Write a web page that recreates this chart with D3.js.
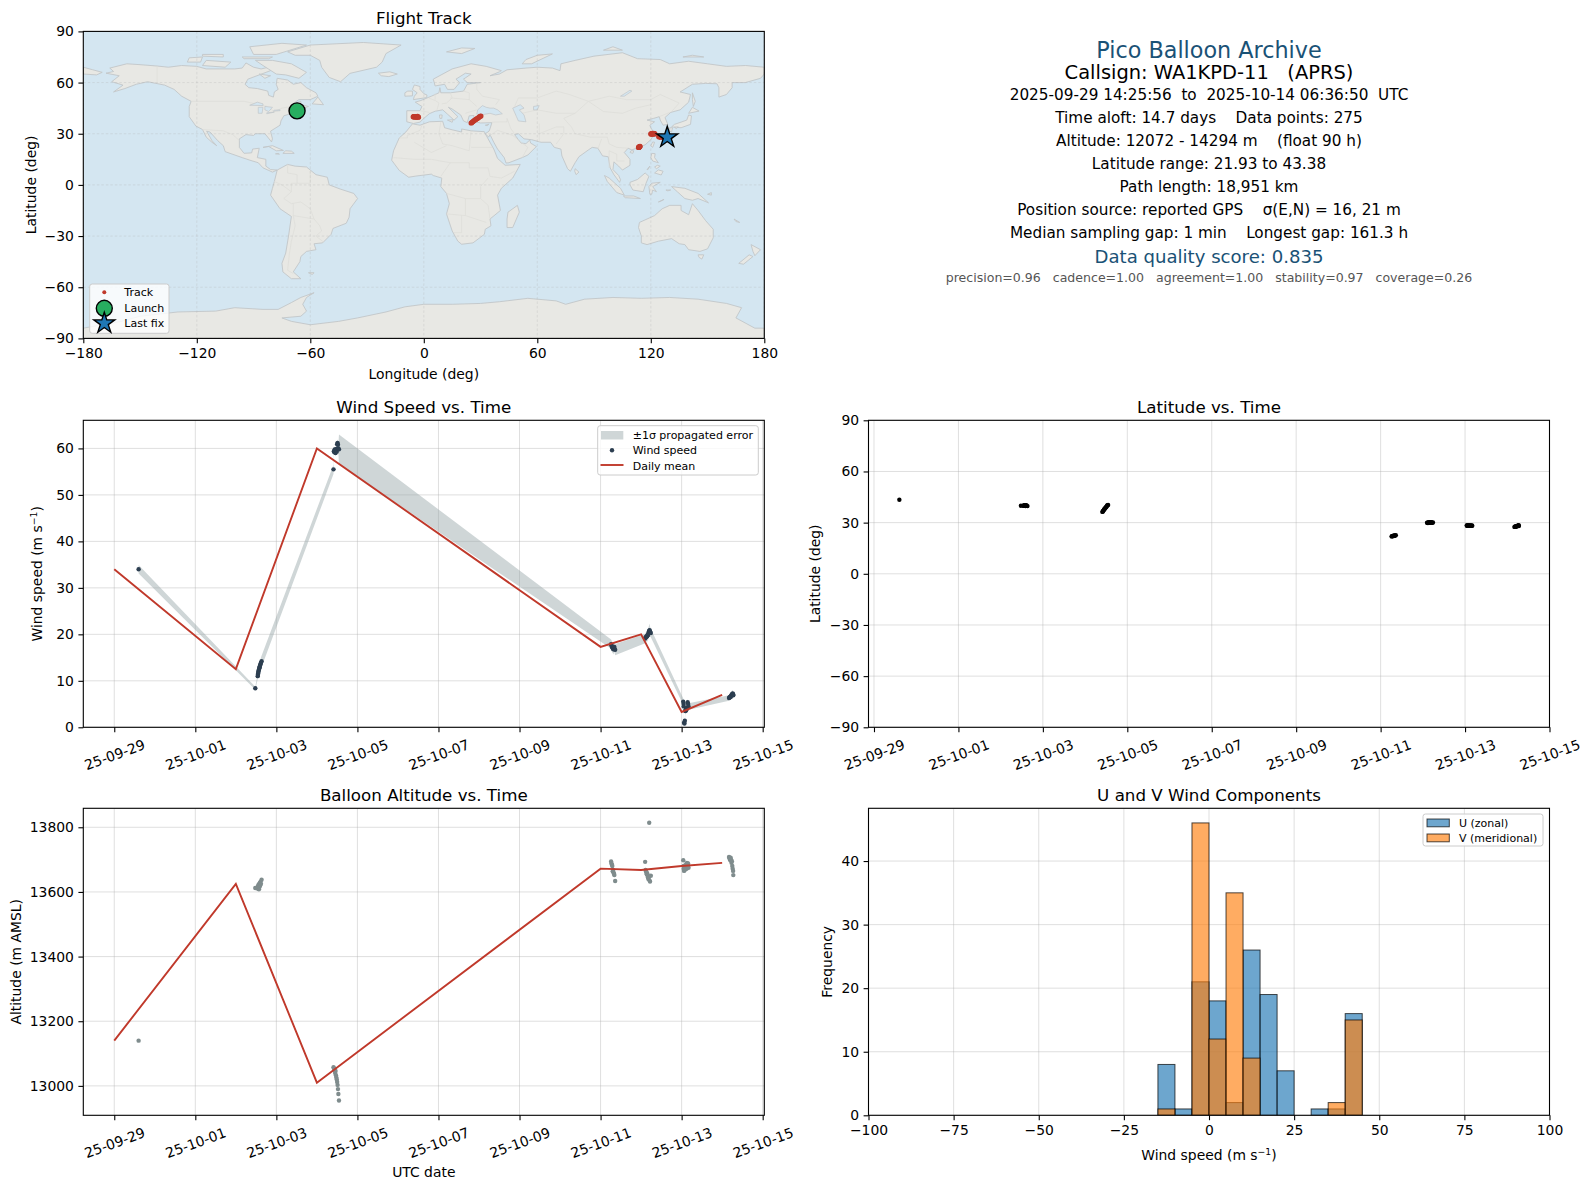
<!DOCTYPE html>
<html>
<head>
<meta charset="utf-8">
<script src="https://cdn.jsdelivr.net/npm/d3@7"></script>
<style>
  html, body { margin: 0; padding: 0; background: #fff; }
  text { font-family: "DejaVu Sans", sans-serif; fill: #000; }
</style>
</head>
<body>
<svg id="chart" width="1589" height="1189"></svg>
<script>
// fixes, all in time order. day = days since 2025-09-29 00:00 UTC
var fixDay = [0.601,
  3.48, 3.54, 3.545, 3.55, 3.555, 3.56, 3.57, 3.58, 3.585, 3.59, 3.60, 3.61, 3.62, 3.635,
  5.41, 5.42, 5.43, 5.44, 5.45, 5.46, 5.47, 5.48, 5.49, 5.50, 5.51, 5.52, 5.53, 5.545,
  12.26, 12.27, 12.28, 12.29, 12.30, 12.31, 12.32, 12.33, 12.34, 12.36,
  13.10, 13.11, 13.12, 13.13, 13.14, 13.15, 13.16, 13.17, 13.18, 13.19, 13.20, 13.21, 13.22, 13.24,
  14.04, 14.05, 14.05, 14.06, 14.07, 14.08, 14.09, 14.10, 14.11, 14.12, 14.13, 14.15, 14.16, 14.17,
  15.17, 15.18, 15.19, 15.20, 15.21, 15.22, 15.23, 15.24, 15.25, 15.26, 15.27, 15.275];
var fixWind = [34,
  8.4, 11.0, 11.3, 11.6, 11.9, 12.1, 12.4, 12.7, 12.9, 13.1, 13.4, 13.6, 13.9, 14.2,
  55.5, 59.4, 59.2, 59.8, 59.3, 59.0, 59.6, 59.9, 59.3, 60.9, 61.2, 60.8, 60.0, 59.8,
  17.9, 17.6, 17.4, 17.2, 17.0, 16.9, 16.8, 17.1, 17.3, 16.7,
  19.1, 19.3, 19.4, 19.5, 19.6, 19.6, 19.8, 19.9, 20.2, 20.5, 20.8, 20.9, 20.6, 20.3,
  5.5, 5.0, 4.5, 1.0, 0.8, 1.4, 3.5, 3.8, 3.6, 3.9, 4.2, 5.4, 5.0, 4.5,
  6.3, 6.4, 6.5, 6.6, 6.5, 6.8, 6.9, 7.0, 7.2, 7.3, 7.1, 6.9];
var fixSigma = [0.9,
  0.3, 0.6, 0.6, 0.7, 0.7, 0.7, 0.8, 0.8, 0.9, 0.9, 1.0, 1.0, 1.1, 1.2,
  1.0, 0.8, 0.6, 0.6, 0.7, 0.6, 0.6, 0.6, 0.6, 0.7, 0.7, 0.8, 1.0, 3.2,
  1.0, 1.0, 1.2, 1.1, 1.0, 1.2, 1.1, 1.0, 1.1, 1.2,
  1.0, 1.0, 1.1, 1.1, 1.1, 1.2, 1.2, 1.1, 1.2, 1.2, 1.4, 1.2, 1.1, 0.9,
  0.7, 0.7, 0.7, 0.6, 0.6, 0.6, 0.7, 0.7, 0.7, 0.7, 0.7, 0.7, 0.7, 0.7,
  0.6, 0.6, 0.6, 0.6, 0.6, 0.6, 0.6, 0.7, 0.7, 0.7, 0.7, 0.7];
var fixAlt = [13140,
  13612, 13616, 13610, 13618, 13612, 13622, 13608, 13625, 13616, 13628, 13620, 13632, 13625, 13638,
  13058, 13055, 13048, 13052, 13040, 13046, 13033, 13026, 13020, 13012, 13003, 12990, 12975, 12955,
  13694, 13688, 13684, 13680, 13664, 13668, 13660, 13656, 13652, 13634,
  13693, 13668, 13665, 13660, 13655, 13658, 13650, 13645, 13640, 13645, 13814, 13635, 13632, 13650,
  13698, 13680, 13672, 13665, 13668, 13675, 13682, 13670, 13685, 13672, 13690, 13680, 13688, 13675,
  13708, 13705, 13702, 13698, 13706, 13700, 13690, 13695, 13680, 13672, 13665, 13652];
var fixLat = [43.38,
  39.9, 40.0, 39.9, 40.1, 40.0, 39.8, 40.0, 40.1, 39.9, 39.7, 39.9, 40.2, 39.8, 39.7,
  36.3, 36.6, 37.0, 37.3, 37.7, 38.0, 38.3, 38.6, 38.9, 39.2, 39.5, 39.9, 40.2, 40.4,
  21.93, 22.0, 22.1, 22.2, 22.3, 22.2, 22.3, 22.4, 22.5, 22.6,
  29.9, 30.0, 29.8, 30.1, 30.0, 30.2, 30.0, 29.9, 30.1, 30.0, 30.2, 30.0, 29.9, 30.1,
  28.3, 28.2, 28.4, 28.2, 28.3, 28.1, 28.3, 28.2, 28.4, 28.2, 28.3, 28.1, 28.3, 28.2,
  27.5, 27.6, 27.7, 27.6, 27.7, 27.8, 28.0, 28.1, 28.2, 28.4, 28.5, 28.0];
var fixLon = [-67,
  -5.6, -5.4, -5.2, -5.0, -4.8, -4.6, -4.4, -4.2, -4.0, -3.8, -3.5, -3.3, -3.0, -2.8,
  25.0, 25.4, 25.8, 26.2, 26.6, 27.0, 27.4, 27.8, 28.2, 28.6, 29.0, 29.4, 29.8, 30.2,
  113.5, 113.6, 113.7, 113.8, 113.9, 114.0, 114.0, 114.1, 114.2, 114.3,
  120.0, 120.2, 120.3, 120.5, 120.6, 120.8, 121.0, 121.1, 121.3, 121.4, 121.5, 121.7, 121.9, 122.1,
  124.2, 124.4, 124.6, 124.8, 125.0, 125.2, 125.4, 125.6, 125.8, 126.0, 126.2, 126.4, 126.6, 126.8,
  127.2, 127.3, 127.4, 127.5, 127.6, 127.7, 127.8, 128.0, 128.1, 128.2, 128.4, 128.7];

// daily means
var meanDay = [0, 3, 5, 12, 13, 14, 15];
var meanWind = [34, 12.5, 60, 17.3, 20, 3.3, 7];
var meanAlt = [13140, 13625, 13010, 13672, 13668, 13680, 13690];

// histogram, 5 m/s bins
var histEdges = [-15, -10, -5, 0, 5, 10, 15, 20, 25, 30, 35, 40];
var histU = [8, 1, 21, 18, 2, 26, 19, 7, 0, 1, 1, 16];
var histV = [1, 0, 46, 12, 35, 9, 0, 0, 0, 0, 2, 15];

// axis ticks
var dateTicks = ['2025-09-29', '2025-10-01', '2025-10-03', '2025-10-05', '2025-10-07', '2025-10-09', '2025-10-11', '2025-10-13', '2025-10-15'];
var lonTicks = [-180, -120, -60, 0, 60, 120, 180];
var latTicks = [-90, -60, -30, 0, 30, 60, 90];
var windTicks = [0, 10, 20, 30, 40, 50, 60];
var altTicks = [13000, 13200, 13400, 13600, 13800];
var histXTicks = [-100, -75, -50, -25, 0, 25, 50, 75, 100];
var histYTicks = [0, 10, 20, 30, 40];

// launch and last fix
var launchPoint = [-67, 43.38];
var lastFixPoint = [128.7, 27.9];

// info block
var infoHead = 'Pico Balloon Archive';
var infoCall = 'Callsign: WA1KPD-11   (APRS)';
var infoLines = [
  '2025-09-29 14:25:56  to  2025-10-14 06:36:50  UTC',
  'Time aloft: 14.7 days    Data points: 275',
  'Altitude: 12072 - 14294 m    (float 90 h)',
  'Latitude range: 21.93 to 43.38',
  'Path length: 18,951 km',
  'Position source: reported GPS    σ(E,N) = 16, 21 m',
  'Median sampling gap: 1 min    Longest gap: 161.3 h'
];
var infoScore = 'Data quality score: 0.835';
var infoParts = 'precision=0.96   cadence=1.00   agreement=1.00   stability=0.97   coverage=0.26';

// rough coastlines, lon/lat
var landPolys = [
  // north america
  [[-168,65.5],[-164,66.5],[-166,68.5],[-157,71],[-150,70.5],[-141,69.7],[-135,69],[-128,70],[-120,69.5],[-115,68],[-108,68],[-100,68],[-96,68.5],[-94,71.5],[-90,69],[-86,68],[-82,69],[-81,67],[-87,64.5],[-93,62],[-94.5,59],[-92.5,57],[-88,56.5],[-82.5,55],[-82,52.5],[-79.5,51.5],[-79,54.5],[-77,56],[-78,59],[-77.5,62.5],[-72,61.5],[-69,59],[-65,60],[-62,57],[-57,54],[-56,52],[-60,50],[-66,50],[-70,47],[-65,49],[-65,47],[-61,46],[-66,44],[-70,43.5],[-70.5,41.7],[-74,40.5],[-75.5,37.5],[-76,35],[-81,31.5],[-80,27],[-80.5,25.2],[-82.5,28],[-84,30],[-89,30],[-90,29],[-94,29.5],[-97.5,27],[-97.5,22],[-95,18.5],[-91,18.8],[-90.5,21],[-87,21.5],[-88,16],[-83.5,15],[-83.5,11],[-81,9],[-77.5,8.7],[-80,7.5],[-85,10],[-87.5,13],[-92,14.5],[-96,16],[-105,19.5],[-106,23],[-109,26],[-113,31],[-114.8,31.5],[-112,26],[-109.5,23],[-112,25],[-115,28],[-117,32.5],[-120.5,34.5],[-124,40],[-124,46],[-123,49],[-128,52],[-132,56],[-137,58.5],[-146,60.5],[-152,59],[-158,56.5],[-164,54.5],[-159,58.5],[-165,60.5],[-161,64]],
  // south america
  [[-77.5,8.7],[-72,12],[-68,11],[-62,10.5],[-57,6],[-51,4.5],[-50,0],[-44,-2.5],[-37,-5],[-35,-8],[-39,-14],[-39.5,-19],[-41,-22.5],[-48,-25.5],[-49,-29],[-53.5,-34],[-58,-34.5],[-57,-38],[-62,-39],[-65,-42],[-65.5,-45],[-69,-51],[-65,-55],[-70,-55],[-74.5,-51],[-75,-46],[-73,-40],[-71.5,-30],[-70,-18.5],[-76,-14],[-81,-6],[-80,-2],[-79,2]],
  // africa
  [[-6,35.8],[-2,35],[3,37],[10,37.3],[11,33.5],[15,32.3],[20,31],[20,32.8],[25,31.7],[32,31.2],[32.5,30],[34,27],[37,21],[39,15.5],[43,11.5],[51,12],[47,4],[41,-2],[39,-6],[40.5,-15],[35,-20],[35.5,-24],[32.5,-26],[32,-29],[26,-34],[20,-34.8],[18,-33],[15,-27],[12,-17],[13.5,-11],[12,-5],[9,-1],[9.5,4],[5,5.5],[4,6.3],[-4,5.2],[-8,4.5],[-13,8.5],[-17,14.5],[-16,20],[-13,27.5],[-9.5,31]],
  // eurasia
  [[-9,37],[-5.5,36],[-2,36.8],[0,39],[3,41.8],[6,43.2],[10,44],[12.5,41.5],[16,38],[18,40],[13,45.5],[15,44.5],[19.5,41],[21,37.5],[23,36.5],[24,40.5],[26.5,40.7],[26.5,38.5],[27.5,37],[30,36.3],[36,36.5],[35,33],[34.5,31.5],[32.5,30],[34.3,28],[35,29.5],[37,25],[39,21],[42.5,16],[43.5,12.8],[45,13],[52,16],[55,17.5],[59.5,22.5],[56.5,24.5],[56,26.3],[54,24.2],[51.5,24.5],[50,26.5],[48,29.5],[50,30],[53,27],[57,26.5],[62,25],[67,25],[69,22],[72.5,21],[73,17],[76,9.5],[77.5,8],[80,13],[82,16.5],[87,20.5],[89,22],[92,21.5],[94.5,17],[97.5,16.5],[98.5,10],[100.5,6],[103.5,1.5],[104,3],[103,5.5],[100,9],[100.5,13.5],[103,11],[105,8.7],[109,11.5],[109,15],[106,19],[108,21.5],[110,20.5],[113.5,22],[117,23.5],[120,26.5],[122,30],[120,33.5],[119.5,35],[122,37],[118,38],[121.5,39],[124.5,40],[125,38],[126.5,35],[129,35.5],[127.5,39.5],[130.5,42.5],[135.5,44],[140,48.5],[141,53],[135.5,54.5],[142,59],[149,59.5],[155,59.3],[156,57],[156,51.5],[160,53],[163,57],[163,60],[170,60],[178,62.5],[180,65],[180,69],[170,70],[160,69.5],[150,71],[140,72.5],[130,71],[125,73.5],[113,74],[105,77.5],[90,75.5],[80,73],[72.5,71],[72,67],[68,68.5],[60,69],[54,68.5],[44,67.5],[40,65],[35,64],[40,66.3],[41,67],[33,69.5],[25,71],[15,68],[5,62],[6,58],[11,59],[12.5,56],[16,56],[19,60],[17,62],[22,65.5],[25,65],[21,62],[23,60],[30,60],[23,59],[21,55],[14,54],[9,54],[8.5,57],[8,54],[4,52],[-1.5,49.5],[-4.5,48.5],[-1,46],[-2,43.5],[-9,43.5]],
  // chukotka over the dateline
  [[-180,65],[-173,64.5],[-170,66],[-175,67.5],[-180,69]],
  // greenland and arctic islands
  [[-72,78],[-60,82],[-32,83.5],[-12,82],[-20,77],[-22,72],[-25,69],[-39,65.4],[-44,60.5],[-50,63],[-54,69],[-55,73],[-60,76],[-68,76]],
  [[-80,73],[-70,71],[-62,66],[-66,62.5],[-73,64.5],[-78,65],[-85,70],[-89,73]],
  [[-117,70],[-105,69],[-102,72],[-115,73]],
  [[-90,76.5],[-78,76.5],[-62,82],[-75,83],[-92,81]],
  [[-125,72],[-118,72],[-117,75],[-124,74.5]],
  [[-96,75],[-80,75],[-82,74],[-95,74]],
  [[-117,75.5],[-106,75],[-106,76.5],[-117,76.5]],
  [[-87,65],[-81,64],[-84,62.5]],
  [[-59,47.5],[-53,47],[-56,51.5]],
  // caribbean
  [[-85,22],[-80,23],[-74.2,20.2],[-78,20],[-82,22.5]],
  [[-74.5,18.5],[-68.5,18.5],[-70,19.8],[-73,20]],
  [[-78.4,18.2],[-76.3,18],[-77,18.5]],
  // europe islands
  [[-5.5,50],[1.5,51.2],[1.7,52.7],[0,53.5],[-2,56],[-2,57.7],[-5,58.6],[-6,56],[-3.5,54],[-5,52]],
  [[-10,52],[-6,52.2],[-6,55],[-8.5,55],[-10,54]],
  [[-24,65.5],[-18,66.3],[-14,65],[-18.5,63.5],[-22.5,64]],
  [[12.5,38],[15.5,38.2],[15,36.7]],
  [[8.3,41],[9.7,41],[9.5,39],[8.5,39]],
  [[24,35.5],[26.2,35.2],[25,34.9]],
  [[32.5,35],[34.5,35.6],[33.5,34.7]],
  [[12,78],[20,80.3],[27,80],[20,77]],
  [[52,71],[57,71],[68,76.8],[60,76],[54,73.5]],
  [[95,79],[105,79],[100,81]],
  [[137,75],[148,75],[142,76]],
  // east asia
  [[142,54],[143.5,49],[142.5,46],[142,50]],
  [[131,34],[136,33.5],[141,35.5],[141.5,40.5],[140,41],[139,38],[136.5,37],[132.5,35.5]],
  [[140,42],[145.5,43.3],[142,45.5]],
  [[130,33.5],[131.5,33.5],[131,31],[130,31.5]],
  [[132.5,33.8],[134.5,34],[133.5,33]],
  [[120,23],[121,22],[122,25],[121,25.2]],
  [[109,19],[110.5,18.5],[111,20],[109.5,20]],
  [[120,16],[120.5,18.5],[122.3,18.3],[122,16],[124,13],[121,14]],
  [[122,7],[125.5,5.8],[126.5,8],[124,8.8]],
  [[122,10.5],[123.5,11.5],[125,11],[123,9.5]],
  [[118,9],[119.5,11],[118.5,9]],
  // indonesia, new guinea
  [[109,1.5],[113,3.2],[117,7],[119,5],[117.5,1],[116,-4],[110.5,-3],[109,0]],
  [[95.5,5.5],[98,4],[104,-2],[106,-6],[102,-4.5],[97,2]],
  [[105.5,-6.5],[111,-6.5],[114.5,-8],[106.5,-7.5]],
  [[119.5,-5.5],[119,-1],[120.5,1],[125,1.5],[121,-1],[123,-4],[121,-3],[120.5,-5.5]],
  [[131,-1],[138,-2],[145,-5],[150.5,-10.5],[145,-8],[142,-9],[138,-8],[134,-4]],
  [[124,-10],[127,-8.5],[125,-9.7]],
  [[128,-3],[130.5,-3],[129,-3.5]],
  [[150,-5.5],[152,-4.5],[152,-6]],
  // indian ocean
  [[80,9.5],[82,7.5],[80.5,6],[79.8,8]],
  [[49.5,-12],[50.5,-16],[47,-25],[44,-25],[44,-20],[44.5,-16]],
  // australia, new zealand
  [[114,-22],[122,-18],[126,-14],[130,-12],[136,-12],[136,-15],[140,-17.5],[142,-11],[145,-15],[149,-21],[153,-26],[153,-31],[150,-37.5],[146,-39],[140,-38],[138,-35],[135,-34.5],[131,-31.5],[124,-33],[118,-35],[115,-34],[115,-30],[113.5,-25]],
  [[145,-41],[148,-41],[147,-43.5],[145.5,-42.5]],
  [[173,-35],[178,-38],[175,-41.5],[174,-39]],
  [[172,-41],[174,-42],[169,-46.5],[166.5,-46]],
  [[164,-20],[167,-22],[165,-21.5]],
  // falklands
  [[-61,-51.5],[-58,-51.5],[-59,-52.5]],
  // antarctica
  [[-180,-90],[-180,-84],[-160,-80],[-150,-77],[-130,-74.5],[-110,-74],[-100,-72],[-85,-73],[-77,-73],[-70,-69],[-65,-66],[-58,-63.2],[-62,-66],[-64,-70],[-62,-74],[-65,-77],[-75,-78],[-70,-80],[-60,-82],[-45,-80],[-35,-78],[-20,-74.5],[-10,-71.5],[0,-70],[15,-70],[30,-69.5],[40,-68.5],[55,-66.5],[70,-68],[75,-70],[85,-67],[100,-66],[115,-66.5],[130,-66],[145,-67],[160,-69.5],[168,-72],[165,-78],[175,-84],[180,-84],[180,-90]]
];
var lakePolys = [
  [[28,41.5],[31,41.2],[35,42],[38,41],[41.5,41.7],[39,44],[37,45],[35,45],[33,45.5],[31,46.5],[28.5,44]],
  [[47,45],[51,47],[53,45],[50.5,44],[53,41],[54,37],[50,37.5],[49,40]],
  [[58,46],[61,46.5],[60,44],[58,44]],
  [[-92,46.7],[-88,48.5],[-85,47.5],[-85,46.5]],
  [[-87.5,42],[-85.5,42],[-85,45.5],[-87.5,45.5]],
  [[-84,46],[-80,45.5],[-82,43],[-84,44]],
  [[-83,41.7],[-79,42.7],[-83,42.3]],
  [[-79.5,43.3],[-76,43.5],[-76,44],[-79,43.8]],
  [[104,52],[109,55.5],[110,55],[106,52]]
];
var borderLines = [
  [[-123,49],[-95,49],[-83,46],[-79,43],[-75,45],[-70,46],[-67,47],[-67,45]],
  [[-141,69.7],[-141,60]],
  [[-117,32.5],[-106,31.7],[-101,29.5],[-97.5,26]],
  [[-60,8],[-60,1],[-70,1],[-70,-4],[-74,-8],[-70,-11],[-65,-10],[-60,-14],[-58,-20],[-55,-24],[-54,-27],[-57,-30],[-53,-33.5]],
  [[-69,-18],[-68,-24],[-70,-33],[-71,-40],[-72,-50],[-69,-52]],
  [[-72,12],[-72,7],[-67,6],[-67,1]],
  [[-79,2],[-75,0],[-70,-4]],
  [[-69,-11],[-69,-18],[-58,-20]],
  [[-13,27.5],[-8.7,27.5],[-8.7,29],[-2,32],[-1,35]],
  [[9,37],[8,30],[10,24],[15,23],[24,20],[25,31.7]],
  [[25,22],[36,22]],
  [[-5,25],[4,19],[12,23]],
  [[-16,16],[-5,15],[4,15],[14,13],[24,13],[24,10],[34,10],[35,5],[41,4],[48,8]],
  [[14,13],[9,5]],
  [[12,-5],[22,-8],[30,-8],[30,-1],[34,4]],
  [[22,-8],[22,-18],[12,-17]],
  [[20,-18],[20,-28],[16,-28]],
  [[30,-8],[34,-12],[35,-20]],
  [[22,-18],[33,-22]],
  [[-2,43.5],[3,42.5]],
  [[2.5,51],[6,49.5],[8,48],[7,44]],
  [[6,53.5],[6,50]],
  [[14,54],[15,51],[12,48],[9.5,47.5]],
  [[14,51],[24,50],[24,54],[21,55]],
  [[28,46],[24,50]],
  [[22,42],[28,44]],
  [[28,60],[28,56],[31,52],[40,50],[38,47]],
  [[48,46],[50,51],[60,51],[70,55],[77,53],[87,49]],
  [[87,49],[98,52],[107,50],[120,50],[125,53],[135,48],[131,43]],
  [[87,49],[80,42],[74,39],[78,34],[80,30],[88,28],[97,28],[98,24],[102,22],[108,21.5]],
  [[87,49],[95,43],[105,42],[112,45],[120,47]],
  [[44,39],[46,33],[48,30]],
  [[61,36],[61,25]],
  [[36,36.8],[44,37],[44,39]],
  [[35,29],[39,32],[47,29],[55,22],[52,16]],
  [[61,30],[70,34],[74,34],[74,30],[70,24]],
  [[52,42],[60,44],[70,42],[80,42]],
  [[92,21],[94,27]],
  [[98,10],[98,20],[102,18],[102,14],[106,14]],
  [[124.5,40],[130,42.5]]
];

var redLine = '#c0392b';
var gridStroke = '#b0b0b0';

var svg = d3.select('#chart');
var leftCol = {left: 83.3, right: 764.3};
var rightCol = {left: 868.5, right: 1549.5};
var rows = [{top: 31.4, bottom: 338.4}, {top: 420.3, bottom: 727.3}, {top: 808.3, bottom: 1115.3}];

var t0 = Date.UTC(2025, 8, 29);
function dayToDate(d) { return new Date(t0 + d * 864e5); }
var parseDay = d3.utcParse('%Y-%m-%d');
var tickDates = dateTicks.map(function(s) { return parseDay(s); });
var fmtDate = d3.utcFormat('%y-%m-%d');

// draw the grid, ticks and labels of one panel, return the plot group
function panel(col, row, xScale, yScale, opts) {
  var g = svg.append('g');
  var clipId = 'clip' + Math.round(col.left) + Math.round(row.top);
  svg.append('clipPath').attr('id', clipId).append('rect')
    .attr('x', col.left).attr('y', row.top)
    .attr('width', col.right - col.left).attr('height', row.bottom - row.top);
  var plot = g.append('g').attr('clip-path', 'url(#' + clipId + ')');
  var back = plot.append('g');
  var grid = plot.append('g')
    .attr('stroke', gridStroke).attr('stroke-opacity', opts.gridOpacity || 0.4).attr('stroke-width', opts.gridWidth || 1)
    .attr('stroke-dasharray', opts.gridDash || null);
  opts.xTicks.forEach(function(t) {
    grid.append('line').attr('x1', xScale(t)).attr('x2', xScale(t)).attr('y1', row.top).attr('y2', row.bottom);
  });
  opts.yTicks.forEach(function(t) {
    grid.append('line').attr('y1', yScale(t)).attr('y2', yScale(t)).attr('x1', col.left).attr('x2', col.right);
  });
  var front = plot.append('g');

  var xAxis = d3.axisBottom(xScale).tickValues(opts.xTicks).tickSize(4.9).tickPadding(5);
  if (opts.xFormat) xAxis.tickFormat(opts.xFormat);
  var ax = g.append('g').attr('transform', 'translate(0,' + row.bottom + ')').call(xAxis);
  var ay = g.append('g').attr('transform', 'translate(' + col.left + ',0)')
    .call(d3.axisLeft(yScale).tickValues(opts.yTicks).tickSize(4.9).tickPadding(4.5).tickFormat(d3.format('d')));
  ax.select('.domain').remove();
  ay.select('.domain').remove();
  ax.selectAll('text').style('font-size', '13.9px').style('font-family', '"DejaVu Sans"');
  ay.selectAll('text').style('font-size', '13.9px').style('font-family', '"DejaVu Sans"');
  ax.selectAll('line').attr('stroke-width', 1.1);
  ay.selectAll('line').attr('stroke-width', 1.1);
  if (opts.rotate) {
    ax.selectAll('text')
      .attr('y', 0).attr('dy', '0.35em')
      .attr('transform', 'translate(0,27.5) rotate(-20)')
      .attr('text-anchor', 'middle');
  }

  g.append('rect').attr('x', col.left).attr('y', row.top)
    .attr('width', col.right - col.left).attr('height', row.bottom - row.top)
    .attr('fill', 'none').attr('stroke', '#000').attr('stroke-width', 1.1);

  g.append('text').attr('x', (col.left + col.right) / 2).attr('y', row.top - 7.5)
    .attr('text-anchor', 'middle').style('font-size', '16.7px').text(opts.title);

  if (opts.yLabel) {
    var yl = g.append('text').attr('transform', 'translate(' + opts.yLabelX + ',' + (row.top + row.bottom) / 2 + ') rotate(-90)')
      .attr('text-anchor', 'middle').style('font-size', '13.9px');
    addUnitLabel(yl, opts.yLabel);
  }
  if (opts.xLabel) {
    var xl = g.append('text').attr('x', (col.left + col.right) / 2).attr('y', opts.xLabelY)
      .attr('text-anchor', 'middle').style('font-size', '13.9px');
    addUnitLabel(xl, opts.xLabel);
  }
  return {back: back, front: front, g: g};
}

// labels ending in m s^-1 get a raised exponent
function addUnitLabel(sel, label) {
  var p = label.split('^');
  sel.append('tspan').text(p[0]);
  if (p.length > 1) {
    sel.append('tspan').attr('dy', -5).style('font-size', '9.3px').text('\u22121');
    sel.append('tspan').attr('dy', 5).text(')');
  }
}

function legendBox(g, x0, y0, x1, y1) {
  g.append('rect').attr('x', x0).attr('y', y0).attr('width', x1 - x0).attr('height', y1 - y0)
    .attr('rx', 2.5).attr('fill', '#fff').attr('fill-opacity', 0.8).attr('stroke', '#ccc').attr('stroke-width', 1);
}
function legendText(g, x, y, s) {
  g.append('text').attr('x', x).attr('y', y).attr('dy', '0.36em').style('font-size', '11px').text(s);
}

// flight track map
(function() {
  var x = d3.scaleLinear().domain([-180, 180]).range([leftCol.left, leftCol.right]);
  var y = d3.scaleLinear().domain([-90, 90]).range([rows[0].bottom, rows[0].top]);
  var p = panel(leftCol, rows[0], x, y, {
    xTicks: lonTicks, yTicks: latTicks, title: 'Flight Track',
    xLabel: 'Longitude (deg)', xLabelY: 379, yLabel: 'Latitude (deg)', yLabelX: 36,
    gridDash: '2.5,2', gridOpacity: 0.4, gridWidth: 0.7
  });
  var line = d3.line().x(function(d) { return x(d[0]); }).y(function(d) { return y(d[1]); });
  p.back.append('rect').attr('x', leftCol.left).attr('y', rows[0].top)
    .attr('width', leftCol.right - leftCol.left).attr('height', rows[0].bottom - rows[0].top).attr('fill', '#d4e6f1');
  p.back.selectAll('path.land').data(landPolys).enter().append('path').attr('class', 'land')
    .attr('d', function(d) { return line(d) + 'Z'; })
    .attr('fill', '#e8e8e4').attr('stroke', '#c2c6c8').attr('stroke-width', 0.9).attr('stroke-linejoin', 'round');
  p.back.selectAll('path.border').data(borderLines).enter().append('path').attr('class', 'border')
    .attr('d', line).attr('fill', 'none').attr('stroke', '#dcdcd9').attr('stroke-width', 0.7);
  p.back.selectAll('path.lake').data(lakePolys).enter().append('path').attr('class', 'lake')
    .attr('d', function(d) { return line(d) + 'Z'; })
    .attr('fill', '#d4e6f1').attr('stroke', '#c2c6c8').attr('stroke-width', 0.7);

  p.front.selectAll('circle.fix').data(fixLon).enter().append('circle').attr('class', 'fix')
    .attr('cx', function(d) { return x(d); })
    .attr('cy', function(d, i) { return y(fixLat[i]); })
    .attr('r', 2.6).attr('fill', redLine);
  p.front.append('circle').attr('cx', x(launchPoint[0])).attr('cy', y(launchPoint[1]))
    .attr('r', 8).attr('fill', '#27ae60').attr('stroke', '#000').attr('stroke-width', 1.4);
  p.front.append('path').attr('d', d3.symbol(d3.symbolStar, 136)())
    .attr('transform', 'translate(' + x(lastFixPoint[0]) + ',' + y(lastFixPoint[1]) + ')')
    .attr('fill', '#1f77b4').attr('stroke', '#000').attr('stroke-width', 1.4);

  var lg = p.g.append('g');
  legendBox(lg, 89.7, 284, 169, 333.3);
  lg.append('circle').attr('cx', 104.3).attr('cy', 292.3).attr('r', 2).attr('fill', redLine);
  lg.append('circle').attr('cx', 104.3).attr('cy', 308.3).attr('r', 8).attr('fill', '#27ae60').attr('stroke', '#000').attr('stroke-width', 1.4);
  lg.append('path').attr('d', d3.symbol(d3.symbolStar, 136)()).attr('transform', 'translate(104.3,323.3)')
    .attr('fill', '#1f77b4').attr('stroke', '#000').attr('stroke-width', 1.4);
  legendText(lg, 124.3, 292.3, 'Track');
  legendText(lg, 124.3, 308.3, 'Launch');
  legendText(lg, 124.3, 323.3, 'Last fix');
})();

// info text
(function() {
  var cx = 1209;
  var g = svg.append('g').attr('text-anchor', 'middle');
  g.append('text').attr('x', cx).attr('y', 58).style('font-size', '22.3px').style('fill', '#1a5276').text(infoHead);
  g.append('text').attr('x', cx).attr('y', 79).style('font-size', '19.45px').style('white-space', 'pre').text(infoCall);
  infoLines.forEach(function(s, i) {
    g.append('text').attr('x', cx).attr('y', 99.7 + i * 23.1).style('font-size', '15.25px').style('white-space', 'pre').text(s);
  });
  g.append('text').attr('x', cx).attr('y', 263).style('font-size', '18.1px').style('fill', '#1a5276').text(infoScore);
  g.append('text').attr('x', cx).attr('y', 282).style('font-size', '12.55px').style('fill', '#555').style('white-space', 'pre').text(infoParts);
})();

// wind speed against time
(function() {
  var x = d3.scaleUtc().domain([dayToDate(-0.764), dayToDate(16.04)]).range([leftCol.left, leftCol.right]);
  var y = d3.scaleLinear().domain([0, 66.05]).range([rows[1].bottom, rows[1].top]);
  var p = panel(leftCol, rows[1], x, y, {
    xTicks: tickDates, yTicks: windTicks, title: 'Wind Speed vs. Time', xFormat: fmtDate, rotate: true,
    yLabel: 'Wind speed (m s^', yLabelX: 42
  });
  var band = d3.area()
    .x(function(d) { return x(dayToDate(fixDay[d])); })
    .y0(function(d) { return y(fixWind[d] - fixSigma[d]); })
    .y1(function(d) { return y(fixWind[d] + fixSigma[d]); });
  p.front.append('path').attr('d', band(d3.range(fixDay.length))).attr('fill', '#95a5a6').attr('fill-opacity', 0.45);
  p.front.selectAll('circle').data(fixDay).enter().append('circle')
    .attr('cx', function(d) { return x(dayToDate(d)); })
    .attr('cy', function(d, i) { return y(fixWind[i]); })
    .attr('r', 2.2).attr('fill', '#2c3e50');
  var mean = d3.line().x(function(d, i) { return x(dayToDate(d)); }).y(function(d, i) { return y(meanWind[i]); });
  p.front.append('path').attr('d', mean(meanDay)).attr('fill', 'none').attr('stroke', redLine).attr('stroke-width', 1.9);

  var lg = p.g.append('g');
  legendBox(lg, 597.7, 425.7, 758.3, 475);
  lg.append('rect').attr('x', 601).attr('y', 431).attr('width', 22.3).attr('height', 8.5).attr('fill', '#95a5a6').attr('fill-opacity', 0.45);
  lg.append('circle').attr('cx', 612).attr('cy', 450.3).attr('r', 2.2).attr('fill', '#2c3e50');
  lg.append('line').attr('x1', 600.5).attr('x2', 623.5).attr('y1', 465).attr('y2', 465).attr('stroke', redLine).attr('stroke-width', 1.9);
  legendText(lg, 632.7, 435.3, '\u00b11\u03c3 propagated error');
  legendText(lg, 632.7, 450.3, 'Wind speed');
  legendText(lg, 632.7, 465.8, 'Daily mean');
})();

// latitude against time
(function() {
  var x = d3.scaleUtc().domain([dayToDate(-0.13), dayToDate(16.0)]).range([rightCol.left, rightCol.right]);
  var y = d3.scaleLinear().domain([-90, 90]).range([rows[1].bottom, rows[1].top]);
  var p = panel(rightCol, rows[1], x, y, {
    xTicks: tickDates, yTicks: latTicks, title: 'Latitude vs. Time', xFormat: fmtDate, rotate: true,
    yLabel: 'Latitude (deg)', yLabelX: 820
  });
  p.front.selectAll('circle').data(fixDay).enter().append('circle')
    .attr('cx', function(d) { return x(dayToDate(d)); })
    .attr('cy', function(d, i) { return y(fixLat[i]); })
    .attr('r', 2.2).attr('fill', '#000');
})();

// altitude against time
(function() {
  var x = d3.scaleUtc().domain([dayToDate(-0.764), dayToDate(16.04)]).range([leftCol.left, leftCol.right]);
  var y = d3.scaleLinear().domain([12909, 13858.7]).range([rows[2].bottom, rows[2].top]);
  var p = panel(leftCol, rows[2], x, y, {
    xTicks: tickDates, yTicks: altTicks, title: 'Balloon Altitude vs. Time', xFormat: fmtDate, rotate: true,
    xLabel: 'UTC date', xLabelY: 1177, yLabel: 'Altitude (m AMSL)', yLabelX: 21
  });
  p.front.selectAll('circle').data(fixDay).enter().append('circle')
    .attr('cx', function(d) { return x(dayToDate(d)); })
    .attr('cy', function(d, i) { return y(fixAlt[i]); })
    .attr('r', 2.2).attr('fill', '#7f8c8d');
  var mean = d3.line().x(function(d) { return x(dayToDate(d)); }).y(function(d, i) { return y(meanAlt[i]); });
  p.front.append('path').attr('d', mean(meanDay)).attr('fill', 'none').attr('stroke', redLine).attr('stroke-width', 1.9);
})();

// wind component histogram
(function() {
  var x = d3.scaleLinear().domain([-100, 100]).range([rightCol.left, rightCol.right]);
  var y = d3.scaleLinear().domain([0, 48.3]).range([rows[2].bottom, rows[2].top]);
  var p = panel(rightCol, rows[2], x, y, {
    xTicks: histXTicks, yTicks: histYTicks, title: 'U and V Wind Components',
    xLabel: 'Wind speed (m s^', xLabelY: 1160, yLabel: 'Frequency', yLabelX: 832
  });
  function bars(values, colour) {
    p.front.append('g').selectAll('rect').data(values).enter().append('rect')
      .attr('x', function(d, i) { return x(histEdges[i]); })
      .attr('width', function(d, i) { return x(histEdges[i] + 5) - x(histEdges[i]); })
      .attr('y', function(d) { return y(d); })
      .attr('height', function(d) { return y(0) - y(d); })
      .attr('fill', colour).attr('fill-opacity', 0.65)
      .attr('stroke', '#000').attr('stroke-opacity', 0.7).attr('stroke-width', 1);
  }
  bars(histU, '#1f77b4');
  bars(histV, '#ff7f0e');

  var lg = p.g.append('g');
  legendBox(lg, 1423, 814, 1543, 846);
  lg.append('rect').attr('x', 1427).attr('y', 819).attr('width', 22.3).attr('height', 7.8)
    .attr('fill', '#1f77b4').attr('fill-opacity', 0.65).attr('stroke', '#000').attr('stroke-opacity', 0.7);
  lg.append('rect').attr('x', 1427).attr('y', 834).attr('width', 22.3).attr('height', 7.8)
    .attr('fill', '#ff7f0e').attr('fill-opacity', 0.65).attr('stroke', '#000').attr('stroke-opacity', 0.7);
  legendText(lg, 1459, 823, 'U (zonal)');
  legendText(lg, 1459, 838, 'V (meridional)');
})();
</script>
</body>
</html>
